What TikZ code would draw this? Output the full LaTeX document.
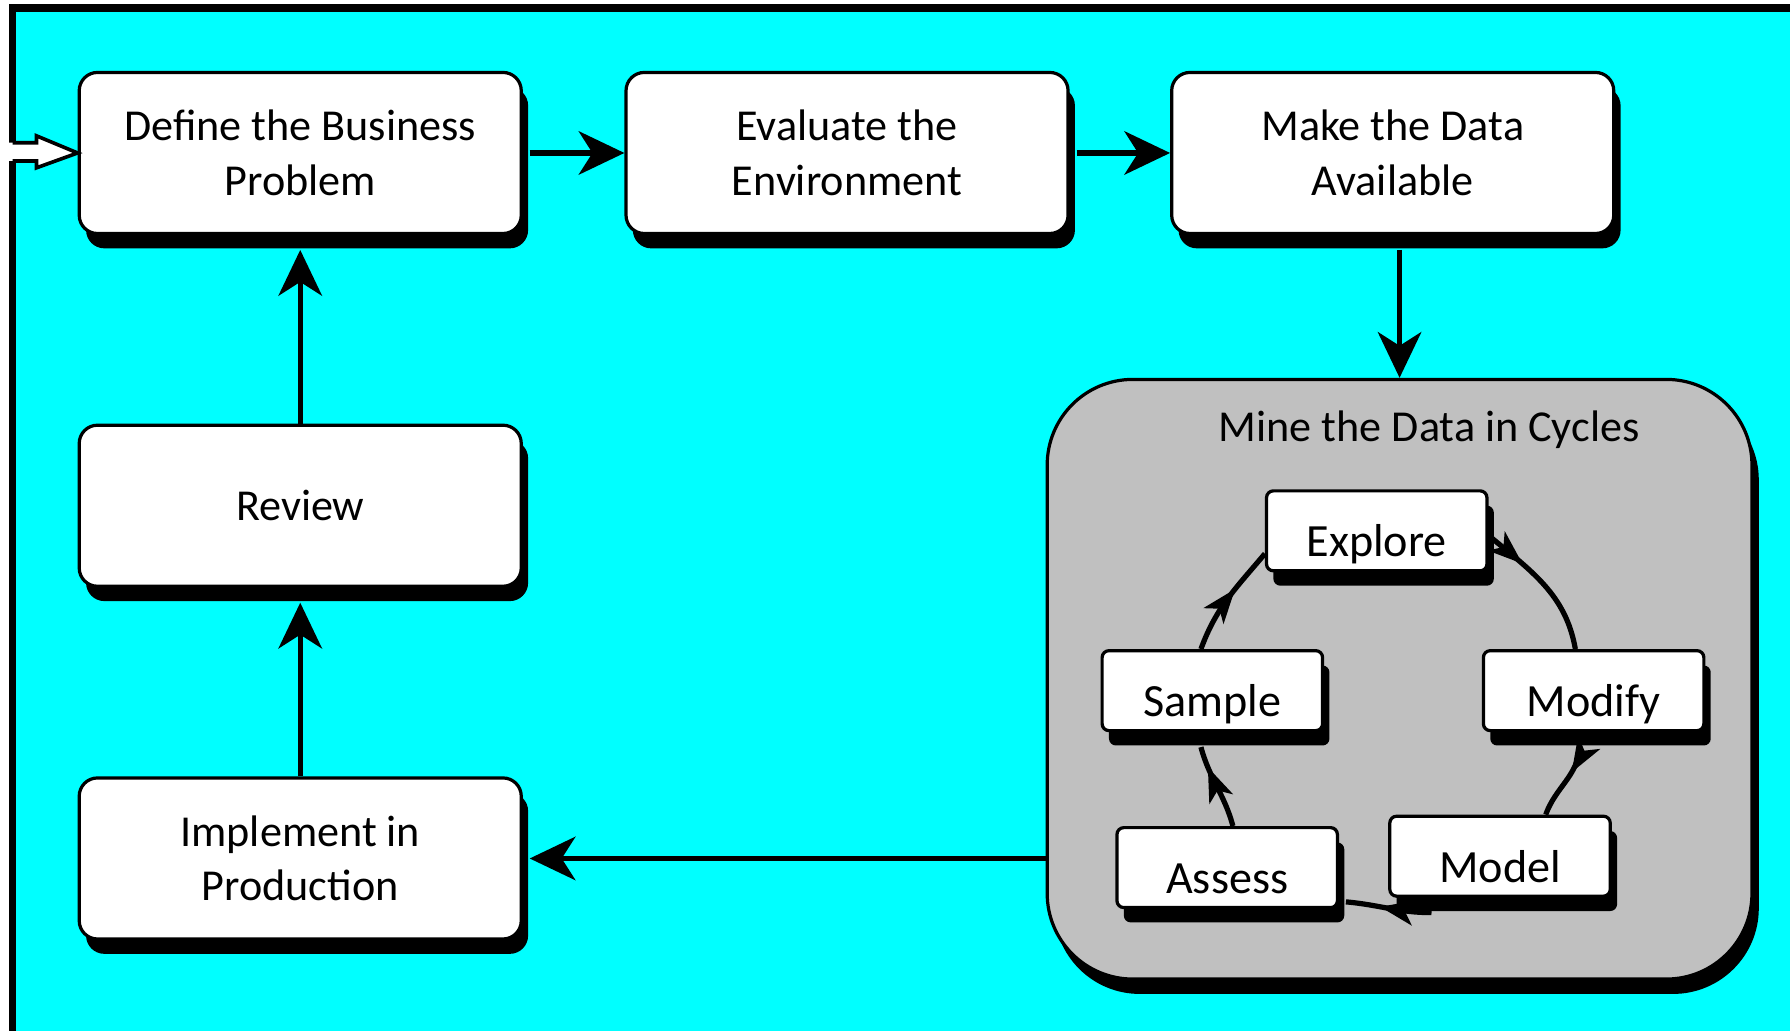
\documentclass[tikz,border=0pt]{standalone}
\usepackage{fontspec}
\setmainfont{Carlito}
\usetikzlibrary{arrows.meta,shadows,decorations.markings}
\definecolor{aqua}{RGB}{0,255,255}
\definecolor{minegray}{RGB}{192,192,192}
\newcommand{\shx}{0.06cm}
\newcommand{\shy}{-0.13cm}

\begin{document}
\begin{tikzpicture}[x=0.01cm,y=-0.01cm,
  blackshadow/.style={drop shadow={shadow xshift=\shx,shadow yshift=\shy,fill=black,opacity=1}},
  stepbox/.style={draw,line width=0.8pt,fill=white,rounded corners=0.16cm,
    minimum width=3.87cm,minimum height=1.41cm,align=center,
    font=\fontsize{11}{13.6}\selectfont,blackshadow},
  cyclebox/.style={draw,line width=0.8pt,fill=white,rounded corners=0.06cm,
    minimum width=1.93cm,minimum height=0.7cm,inner ysep=1pt,
    text height=15pt,text depth=2pt,
    font=\fontsize{11.5}{14}\selectfont,blackshadow},
  flow/.style={line width=1.3pt,-{Stealth[length=0.4cm,width=0.38cm,inset=0.12cm]}},
  cyclearrow/.style={line width=1.3pt,postaction={decorate},
    decoration={markings,mark=at position #1 with
      {\arrow{Stealth[length=0.3cm,width=0.22cm,inset=0.08cm]}}}},
]
  \useasboundingbox (0,0) rectangle (1568,903);
  \fill[aqua] (11,7) rectangle (1568,903);

  % frame and the way in
  \draw[line width=1.8pt] (11,903) -- (11,141);
  \draw[line width=1.8pt] (11,125) -- (11,7) -- (1568,7);

  % outer steps
  \node[stepbox] (define)    at (263,134) {Define the Business\\Problem};
  \node[stepbox] (evaluate)  at (742,134) {Evaluate the\\Environment};
  \node[stepbox] (makedata)  at (1220,134) {Make the Data\\Available};
  \node[stepbox] (review)    at (263,443) {Review};
  \node[stepbox] (implement) at (263,752) {Implement in\\Production};

  \fill[white] (0,125) -- (32,125) -- (32,119) -- (define.west) -- (32,147) -- (32,141) -- (0,141) -- cycle;
  \draw[line width=0.9pt] (11,125) -- (32,125) -- (32,119) -- (define.west) -- (32,147) -- (32,141) -- (11,141);

  % mining cycle
  \node[draw,line width=0.8pt,fill=minegray,rounded corners=0.75cm,
    minimum width=6.17cm,minimum height=5.25cm,blackshadow] (mine) at (1226,595) {};
  \node[font=\fontsize{11}{13.6}\selectfont] (minetitle) at (1252,376) {Mine the Data in Cycles};

  \node[cyclebox] (explore) at (1206,465) {Explore};
  \node[cyclebox] (sample)  at (1062,605) {Sample};
  \node[cyclebox] (modify)  at (1396,605) {Modify};
  \node[cyclebox] (assess)  at (1075,760) {Assess};
  \node[cyclebox] (model)   at (1314,750) {Model};

  \draw[cyclearrow=0.3] ([yshift=-0.04cm]explore.east) to[out=-40,in=100] ([xshift=-0.16cm]modify.north);
  \draw[cyclearrow=0.35] ([xshift=-0.12cm,yshift=\shy]modify.south) to[out=-95,in=70] ([xshift=0.4cm]model.north);
  \draw[cyclearrow=0.6] ([xshift=-0.6cm,yshift=\shy]model.south) to[out=180,in=-5] ([xshift=\shx,yshift=-0.3cm]assess.east);
  \draw[cyclearrow=0.75] ([xshift=0.05cm]assess.north) to[out=105,in=-75] ([xshift=-0.1cm,yshift=\shy]sample.south);
  \draw[cyclearrow=0.6] ([xshift=-0.1cm]sample.north) to[out=70,in=-130] ([yshift=-0.2cm]explore.west);

  % main flow
  \draw[flow] ([xshift=\shx]define.east) -- (evaluate.west);
  \draw[flow] ([xshift=\shx]evaluate.east) -- (makedata.west);
  \draw[flow] ([yshift=\shy]mine.north |- makedata.south) -- (mine.north);
  \draw[flow] (mine.west |- implement.east) -- ([xshift=\shx]implement.east);
  \draw[flow] (implement.north) -- ([yshift=\shy]review.south);
  \draw[flow] (review.north) -- ([yshift=\shy]define.south);
\end{tikzpicture}
\end{document}
